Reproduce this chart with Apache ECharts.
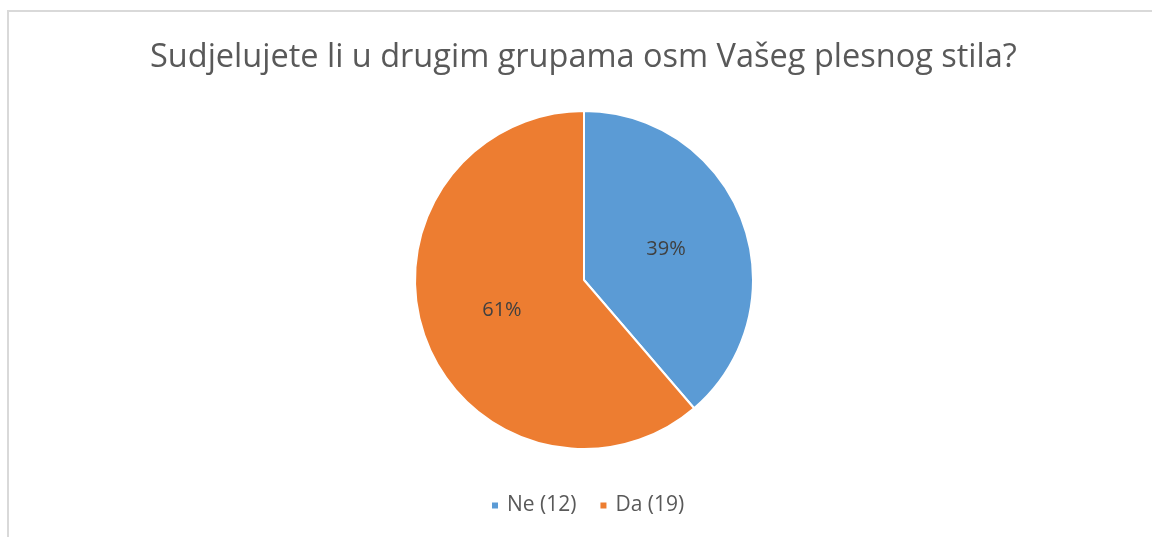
<!DOCTYPE html>
<html>
<head>
<meta charset="utf-8">
<script src="https://cdn.jsdelivr.net/npm/echarts@6/dist/echarts.min.js"></script>
<style>
  html, body { margin: 0; padding: 0; background: #fff; overflow: hidden; }
  #frame {
    position: absolute; left: 7px; top: 10px; width: 1200px; height: 600px;
    border-left: 2px solid #d9d9d9; border-top: 2px solid #d9d9d9;
  }
  #chart { position: absolute; left: 0; top: 0; width: 1152px; height: 537px; }
</style>
</head>
<body>
<div id="frame"></div>
<div id="chart"></div>
<script>
var titleText = 'Sudjelujete li u drugim grupama osm Vašeg plesnog stila?'
var categories = ['Ne (12)', 'Da (19)']
var values = [12, 19]
var colors = ['#5b9bd5', '#ed7d31']

var pieData = categories.map(function (name, i) {
  return { name: name, value: values[i], itemStyle: { color: colors[i] } }
})

var chart = echarts.init(document.getElementById('chart'))
chart.setOption({
  animation: false,
  title: {
    text: titleText,
    left: 145,
    top: 36,
    textStyle: {
      fontFamily: 'Open Sans',
      fontSize: 32.5,
      fontWeight: 400,
      color: '#595959'
    }
  },
  legend: {
    top: 490,
    left: 485,
    itemWidth: 8,
    itemHeight: 8,
    itemGap: 22,
    icon: 'rect',
    textStyle: {
      fontFamily: 'Open Sans',
      fontSize: 21,
      color: '#595959',
      padding: [0, 0, 0, 3]
    },
    data: categories
  },
  series: [{
    type: 'pie',
    center: [584, 280],
    radius: 169,
    startAngle: 90,
    clockwise: true,
    itemStyle: { borderColor: '#fff', borderWidth: 2 },
    label: {
      position: 'inside',
      fontFamily: 'Open Sans',
      fontSize: 20,
      color: '#404040',
      formatter: function (p) { return Math.round(p.percent) + '%' }
    },
    labelLine: { show: false },
    data: pieData
  }]
})
</script>
</body>
</html>
